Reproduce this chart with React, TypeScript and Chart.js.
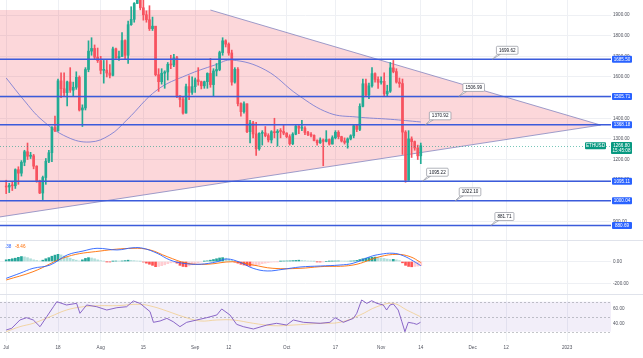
import React, { useEffect, useRef } from 'react';
import { Chart, registerables } from 'chart.js';

Chart.register(...registerables);

const FONT = "'Liberation Sans', Arial, sans-serif";
const AXIS_COLOR = '#50535e';
const GRID_COLOR = '#eef0f4';
const UP = '#22ab94';
const DOWN = '#f7525f';
const LEVEL_COLOR = '#3b5bdb';
const FS = 4.6;

const X_MIN = -2.03;
const X_MAX = 198.4;
const xTickDays = [0, 17, 31, 45, 62, 73, 92, 108, 123, 136, 153, 164, 184];
const xTickLabels = ['Jul', '18', 'Aug', '15', 'Sep', '12', 'Oct', '17', 'Nov', '14', 'Dec', '12', '2023'];

// Daily ETHUSD candles, Jul 1 .. Nov 14
const firstOpen = 1068;
const closes = [
  1067, 1075, 1073, 1151, 1134, 1187, 1238, 1216, 1218, 1168,
  1097, 1038, 1113, 1192, 1233, 1355, 1339, 1581, 1543, 1524,
  1576, 1536, 1550, 1598, 1440, 1450, 1636, 1725, 1738, 1696,
  1679, 1632, 1633, 1619, 1608, 1736, 1693, 1699, 1776, 1705,
  1853, 1879, 1956, 1982, 1935, 1901, 1877, 1834, 1846, 1611,
  1577, 1618, 1624, 1661, 1658, 1693, 1508, 1491, 1425, 1553,
  1525, 1553, 1586, 1577, 1557, 1577, 1617, 1563, 1629, 1636,
  1718, 1775, 1759, 1716, 1575, 1637, 1471, 1432, 1470, 1335,
  1377, 1324, 1252, 1327, 1329, 1316, 1295, 1335, 1330, 1337,
  1336, 1328, 1311, 1277, 1323, 1362, 1352, 1352, 1331, 1322,
  1317, 1292, 1281, 1295, 1288, 1297, 1275, 1306, 1332, 1311,
  1290, 1283, 1300, 1315, 1364, 1346, 1458, 1567, 1513, 1557,
  1616, 1588, 1574, 1579, 1518, 1531, 1644, 1626, 1575, 1568,
  1333, 1100, 1300, 1287, 1256, 1218, 1267,
];
const highs = [
  1100, 1085, 1090, 1155, 1165, 1195, 1245, 1280, 1235, 1225,
  1170, 1100, 1120, 1205, 1245, 1360, 1410, 1590, 1620, 1620,
  1580, 1645, 1575, 1625, 1605, 1465, 1645, 1775, 1790, 1755,
  1740, 1700, 1680, 1680, 1660, 1745, 1740, 1725, 1815, 1780,
  1870, 1940, 1960, 2020, 2030, 2005, 1920, 1945, 1890, 1845,
  1640, 1640, 1630, 1670, 1705, 1710, 1700, 1510, 1505, 1565,
  1605, 1600, 1595, 1645, 1580, 1580, 1620, 1690, 1640, 1665,
  1725, 1790, 1780, 1765, 1730, 1645, 1645, 1475, 1480, 1470,
  1390, 1385, 1380, 1330, 1340, 1360, 1325, 1340, 1400, 1345,
  1350, 1365, 1330, 1320, 1330, 1365, 1365, 1390, 1360, 1337,
  1330, 1320, 1295, 1305, 1300, 1340, 1300, 1315, 1340, 1340,
  1313, 1305, 1305, 1320, 1370, 1370, 1470, 1590, 1590, 1570,
  1645, 1620, 1600, 1600, 1620, 1560, 1670, 1680, 1640, 1595,
  1590, 1340, 1340, 1310, 1290, 1270, 1280,
];
const lows = [
  1035, 1040, 1050, 1060, 1080, 1120, 1170, 1200, 1205, 1155,
  1090, 1035, 1006, 1080, 1185, 1190, 1335, 1338, 1500, 1505,
  1460, 1525, 1505, 1540, 1435, 1360, 1440, 1625, 1705, 1685,
  1670, 1615, 1570, 1600, 1595, 1605, 1690, 1680, 1700, 1685,
  1665, 1850, 1865, 1955, 1925, 1875, 1865, 1825, 1825, 1605,
  1530, 1565, 1545, 1585, 1640, 1650, 1500, 1455, 1420, 1425,
  1490, 1515, 1525, 1560, 1542, 1545, 1545, 1550, 1505, 1605,
  1630, 1705, 1745, 1705, 1560, 1570, 1460, 1410, 1425, 1330,
  1280, 1305, 1220, 1245, 1270, 1310, 1285, 1280, 1305, 1265,
  1305, 1320, 1305, 1270, 1272, 1320, 1325, 1340, 1320, 1316,
  1310, 1290, 1270, 1278, 1170, 1285, 1270, 1275, 1300, 1300,
  1285, 1275, 1255, 1295, 1305, 1335, 1340, 1455, 1505, 1495,
  1550, 1575, 1545, 1565, 1505, 1505, 1525, 1620, 1570, 1550,
  1225, 1090, 1100, 1210, 1245, 1200, 1180,
];

// Moving average (day, price)
const maDays = [0, 5.8, 11.7, 20, 27.5, 34, 39.6, 49.5, 59.3, 68.5, 74, 85, 95.7, 106, 115, 126, 136];
const maValues = [1595, 1488, 1392, 1309, 1285, 1319, 1392, 1537, 1609, 1658, 1682, 1634, 1513, 1425, 1406, 1395, 1382];

const priceTicks = [900, 1000, 1100, 1200, 1300, 1400, 1500, 1600, 1700, 1800, 1900];
const levelPrices = [1685.5, 1505.71, 1368.18, 1095.11, 1000.04, 880.69];
const lastPrice = 1266.8;
const lastTime = '15:45:08';
const symbol = 'ETHUSD';

const calloutTexts = ['1699.62', '1506.99', '1370.92', '1095.22', '1022.10', '881.71'];
const calloutDays = [159.5, 148.5, 137.5, 136.6, 147.3, 159];
const calloutPrices = [1685.5, 1505.71, 1368.18, 1095.11, 1000.04, 880.69];

const triangleDays = [-3, 67, 195, -3];
const trianglePrices = [1924, 1924, 1367, 920];

// MACD pane
const histValues = [
  15, 20, 25,
  30, 38, 45, 42, 35,
  25, 15, 10, 5,
  12, 25, 35, 48, 58, 65, 60,
  50, 40, 30, 20, 12, 5,
  15, 28, 35, 32, 25,
  15, 8, 3, -2, -3, 2, 4, 3, 5,
  8, 12, 10, 8, 5, 2,
  -5, -15, -25, -35,
  -47, -45, -38, -30, -20,
  -12, -8, -15,
  -35, -45, -48, -40,
  -30, -20, -12, -5, 2, 6,
  12, 18, 25, 32, 35, 30, 22,
  10, -5, -15,
  -25, -32, -38, -42, -40, -35, -28,
  -20, -15, -10, -6, -3, -1, 2, 4, 5,
  6, 8, 10, 12, 10, 8, 5,
  3, 1, -2, -3, -2, 0, 2, 3, 4,
  5, 4, 3, 2, 4, 6, 10,
  18, 25, 30, 35, 38, 40, 36, 32, 28,
  22, 18, 20, 15, 8,
  -12, -35, -45, -48, -45, -42, -38,
];
const macdDays = [0, 4.5, 8.8, 14.4, 20, 25.2, 29.8, 36.4, 41.6, 44.9, 49.5, 53.7, 58, 63.6, 69.2, 72.4, 76.7, 81, 85.6, 90.8, 96.4, 103, 109.5, 113.8, 119.4, 122.6, 126.9, 130.2, 133.5, 136];
const macdValues = [-153, -107, -62, -32, 59, 95, 120, 105, 125, 120, 75, 14, -16, -25, -2, 23, -7, -62, -86, -71, -50, -41, -32, -16, 44, 65, 75, 53, 5, -38];
const signalDays = [0, 8.8, 20, 30.8, 41.6, 47.2, 52.8, 59.3, 65.9, 74.4, 81, 87.5, 96.4, 103, 113.8, 122.6, 128.2, 132.5, 136];
const signalValues = [-168, -93, 44, 95, 120, 105, 44, -16, -25, -2, -32, -62, -62, -47, -32, 44, 65, 44, -8.46];
const macdTicks = [0, -200];
const macdLegend = ['.38', '-8.46'];

// RSI pane
const rsiDays = [0, 1.8, 4.5, 6.7, 8.9, 11.1, 13.3, 15.5, 16.6, 19.8, 23.1, 24.2, 26.4, 29.7, 33, 36.3, 39.5, 41.7, 43.9, 47.2, 48.3, 50.5, 52.7, 54.8, 57, 59.2, 62.5, 65.8, 69.1, 70.7, 73.4, 75.6, 77.8, 81.1, 85.5, 88.7, 92, 94.2, 97.5, 103, 106.2, 107.9, 110.6, 113.9, 115, 116.6, 118.3, 119.9, 121.6, 123.7, 124.8, 125.9, 127, 128.6, 129.8, 130.8, 131.9, 133.6, 134.7, 135.9];
const rsiValues = [32.3, 34.5, 45.6, 48.7, 45.6, 36.7, 50, 63.3, 70, 65.6, 67.8, 54.5, 65.6, 63.3, 58.9, 62, 63.3, 71, 67.8, 56.7, 42.5, 44.3, 47.8, 43.3, 36.7, 42.5, 45.6, 48.7, 52.3, 60.3, 52.3, 39.8, 36.7, 33.6, 38.9, 41.2, 38.9, 45.6, 42.5, 41.2, 42.5, 48.7, 42.5, 47.8, 54.5, 72.3, 67.8, 71.3, 67.8, 65.6, 58.9, 65.6, 66.9, 58.9, 43.3, 30, 42.5, 41.2, 39.8, 42.5];
const rsiMaDays = [0, 4.5, 8.9, 14.4, 19.8, 25.3, 30.8, 36.3, 43.9, 48.3, 52.7, 58.1, 63.6, 69.1, 74.5, 81.1, 87.6, 94.2, 103, 109.5, 116.1, 121.6, 127, 131.4, 135.9];
const rsiMaValues = [30, 36.7, 41.2, 50, 58.9, 63.3, 64.7, 64.7, 66.5, 63.3, 57.6, 50, 44.3, 45.6, 45.6, 41.2, 38, 38.9, 41.2, 42.5, 52.3, 63.3, 67.8, 58.9, 50];
const rsiTicks = [40, 60];
const rsiLevels = [70, 50, 30];

const opens = closes.map((c, i) => (i === 0 ? firstOpen : closes[i - 1]));
const candleColors = closes.map((c, i) => (c >= opens[i] ? UP : DOWN));
const histColors = histValues.map((v, i) => {
  const prev = i === 0 ? 0 : histValues[i - 1];
  if (v >= 0) return v >= prev ? '#26a69a' : '#b2dfdb';
  return v <= prev ? '#ff5252' : '#ffcdd2';
});

function xScale(showLabels: boolean): any {
  return {
    type: 'linear',
    min: X_MIN,
    max: X_MAX,
    offset: false,
    grid: { color: GRID_COLOR, drawTicks: false, offset: false },
    border: { display: false },
    ticks: showLabels
      ? {
          autoSkip: false,
          maxRotation: 0,
          padding: 4,
          font: { size: FS, family: FONT },
          color: AXIS_COLOR,
          callback: (_v: any, i: number) => xTickLabels[i],
        }
      : { display: false },
    afterBuildTicks: (s: any) => {
      s.ticks = xTickDays.map((v) => ({ value: v }));
    },
    afterFit: (s: any) => {
      s.height = showLabels ? 17 : 0;
      s.paddingLeft = 0;
      s.paddingRight = 0;
    },
  };
}

function yScale(min: number, max: number, ticks: number[], grid: boolean): any {
  return {
    type: 'linear',
    position: 'right',
    min,
    max,
    grid: { display: grid, color: GRID_COLOR, drawTicks: false },
    border: { display: false },
    ticks: {
      padding: 2,
      font: { size: FS, family: FONT },
      color: AXIS_COLOR,
      callback: (v: any) => Number(v).toFixed(2),
    },
    afterBuildTicks: (s: any) => {
      s.ticks = ticks.filter((v) => v >= min && v <= max).map((v) => ({ value: v }));
    },
    afterFit: (s: any) => {
      s.width = 32;
      s.paddingTop = 0;
      s.paddingBottom = 0;
    },
  };
}

const baseOptions = (scales: any): any => ({
  animation: false,
  responsive: false,
  maintainAspectRatio: false,
  devicePixelRatio: 1,
  layout: { padding: 0, autoPadding: false },
  plugins: { legend: { display: false }, tooltip: { enabled: false } },
  scales,
});

function roundRect(ctx: CanvasRenderingContext2D, x: number, y: number, w: number, h: number, r: number) {
  ctx.beginPath();
  ctx.moveTo(x + r, y);
  ctx.lineTo(x + w - r, y);
  ctx.quadraticCurveTo(x + w, y, x + w, y + r);
  ctx.lineTo(x + w, y + h - r);
  ctx.quadraticCurveTo(x + w, y + h, x + w - r, y + h);
  ctx.lineTo(x + r, y + h);
  ctx.quadraticCurveTo(x, y + h, x, y + h - r);
  ctx.lineTo(x, y + r);
  ctx.quadraticCurveTo(x, y, x + r, y);
  ctx.closePath();
}

const mainOverlay = {
  id: 'mainOverlay',
  beforeDatasetsDraw(chart: any) {
    const { ctx, chartArea: a, scales } = chart;
    const x = scales.x;
    const y = scales.y;
    ctx.save();
    ctx.beginPath();
    ctx.rect(a.left, a.top, a.right - a.left, a.bottom - a.top);
    ctx.clip();
    const pts = triangleDays.map((d, i) => [x.getPixelForValue(d), y.getPixelForValue(trianglePrices[i])]);
    ctx.beginPath();
    pts.forEach((p, i) => (i ? ctx.lineTo(p[0], p[1]) : ctx.moveTo(p[0], p[1])));
    ctx.closePath();
    ctx.fillStyle = 'rgba(242,54,69,0.2)';
    ctx.fill();
    ctx.beginPath();
    ctx.moveTo(pts[1][0], pts[1][1]);
    ctx.lineTo(pts[2][0], pts[2][1]);
    ctx.lineTo(pts[3][0], pts[3][1]);
    ctx.strokeStyle = 'rgba(125,128,190,0.75)';
    ctx.lineWidth = 1;
    ctx.stroke();
    ctx.restore();
  },
  afterDatasetsDraw(chart: any) {
    const { ctx, chartArea: a, scales } = chart;
    const y = scales.y;
    ctx.save();
    // current price dotted line
    const py = Math.round(y.getPixelForValue(lastPrice)) + 0.5;
    ctx.setLineDash([1, 2]);
    ctx.strokeStyle = 'rgba(8,153,129,0.55)';
    ctx.lineWidth = 1;
    ctx.beginPath();
    ctx.moveTo(a.left, py);
    ctx.lineTo(a.right, py);
    ctx.stroke();
    ctx.setLineDash([]);
    // horizontal levels
    ctx.strokeStyle = LEVEL_COLOR;
    ctx.lineWidth = 1.5;
    levelPrices.forEach((p) => {
      const ly = y.getPixelForValue(p);
      ctx.beginPath();
      ctx.moveTo(a.left, ly);
      ctx.lineTo(a.right, ly);
      ctx.stroke();
    });
    ctx.restore();
  },
  afterDraw(chart: any) {
    const { ctx, chartArea: a, scales } = chart;
    const x = scales.x;
    const y = scales.y;
    ctx.save();
    ctx.font = `${FS}px ${FONT}`;
    ctx.textBaseline = 'middle';
    // callouts
    calloutTexts.forEach((t, i) => {
      const ax = x.getPixelForValue(calloutDays[i]);
      const ay = y.getPixelForValue(calloutPrices[i]);
      const w = ctx.measureText(t).width + 5;
      const bx = ax + 4;
      const by = ay - 13;
      ctx.fillStyle = '#ffffff';
      ctx.strokeStyle = '#8f929c';
      ctx.lineWidth = 0.7;
      ctx.beginPath();
      ctx.moveTo(ax, ay);
      ctx.lineTo(bx + 1, by + 8);
      ctx.lineTo(bx + 4, by + 8);
      ctx.closePath();
      ctx.fill();
      ctx.stroke();
      roundRect(ctx, bx, by, w, 8, 1);
      ctx.fill();
      ctx.stroke();
      ctx.fillStyle = '#131722';
      ctx.textAlign = 'center';
      ctx.fillText(t, bx + w / 2, by + 4.3);
    });
    // axis level labels
    levelPrices.forEach((p) => {
      const ly = y.getPixelForValue(p);
      ctx.fillStyle = '#2962ff';
      roundRect(ctx, a.right + 1, ly - 3.5, 20, 7, 1);
      ctx.fill();
      ctx.fillStyle = '#ffffff';
      ctx.textAlign = 'center';
      ctx.fillText(p.toFixed(2), a.right + 11, ly + 0.3);
    });
    // last price label
    const py = y.getPixelForValue(lastPrice);
    ctx.fillStyle = '#089981';
    roundRect(ctx, a.right, py - 3.8, 21, 12, 1);
    ctx.fill();
    roundRect(ctx, a.right - 26, py - 3.5, 21, 7, 1);
    ctx.fill();
    ctx.fillStyle = '#ffffff';
    ctx.textAlign = 'center';
    ctx.fillText(lastPrice.toFixed(2), a.right + 10.5, py + 0.2);
    ctx.fillText(lastTime, a.right + 10.5, py + 5.2);
    ctx.fillText(symbol, a.right - 15.5, py + 0.2);
    ctx.restore();
  },
};

const macdOverlay = {
  id: 'macdOverlay',
  afterDraw(chart: any) {
    const { ctx } = chart;
    ctx.save();
    ctx.font = `${FS}px ${FONT}`;
    ctx.textBaseline = 'middle';
    ctx.textAlign = 'left';
    ctx.fillStyle = '#2962ff';
    ctx.fillText(macdLegend[0], 5, 6);
    ctx.fillStyle = '#ff6d00';
    ctx.fillText(macdLegend[1], 15, 6);
    ctx.restore();
  },
};

const rsiOverlay = {
  id: 'rsiOverlay',
  beforeDatasetsDraw(chart: any) {
    const { ctx, chartArea: a, scales } = chart;
    const y = scales.y;
    const top = y.getPixelForValue(rsiLevels[0]);
    const bot = y.getPixelForValue(rsiLevels[2]);
    ctx.save();
    ctx.fillStyle = 'rgba(126,87,194,0.1)';
    ctx.fillRect(a.left, top, a.right - a.left, bot - top);
    ctx.setLineDash([2, 2]);
    ctx.strokeStyle = 'rgba(120,123,134,0.55)';
    ctx.lineWidth = 0.8;
    rsiLevels.forEach((v) => {
      const ly = Math.round(y.getPixelForValue(v)) + 0.5;
      ctx.beginPath();
      ctx.moveTo(a.left, ly);
      ctx.lineTo(a.right, ly);
      ctx.stroke();
    });
    ctx.restore();
  },
};

export default function App() {
  const mainRef = useRef<HTMLCanvasElement>(null);
  const macdRef = useRef<HTMLCanvasElement>(null);
  const rsiRef = useRef<HTMLCanvasElement>(null);

  useEffect(() => {
    const days = closes.map((_, i) => i);
    const main = new Chart(mainRef.current as HTMLCanvasElement, {
      type: 'bar',
      data: {
        datasets: [
          {
            type: 'bar',
            label: 'body',
            data: days.map((i) => ({ x: i, y: [opens[i], closes[i]] })) as any,
            backgroundColor: candleColors,
            barThickness: 2,
            maxBarThickness: 2,
            minBarLength: 1,
            grouped: false,
            borderWidth: 0,
          } as any,
          {
            type: 'bar',
            label: 'wick',
            data: days.map((i) => ({ x: i, y: [lows[i], highs[i]] })) as any,
            backgroundColor: candleColors,
            barThickness: 1,
            maxBarThickness: 1,
            grouped: false,
            borderWidth: 0,
          } as any,
          {
            type: 'line',
            label: 'MA',
            data: maDays.map((d, i) => ({ x: d, y: maValues[i] })) as any,
            borderColor: 'rgba(110,118,210,0.8)',
            borderWidth: 1,
            pointRadius: 0,
            tension: 0.4,
          } as any,
        ],
      },
      options: baseOptions({ x: xScale(false), y: yScale(810.41, 1972.64, priceTicks, true) }),
      plugins: [mainOverlay],
    });

    const macd = new Chart(macdRef.current as HTMLCanvasElement, {
      type: 'bar',
      data: {
        datasets: [
          {
            type: 'line',
            label: 'MACD',
            data: macdDays.map((d, i) => ({ x: d, y: macdValues[i] })) as any,
            borderColor: '#2962ff',
            borderWidth: 0.9,
            pointRadius: 0,
            tension: 0.4,
          } as any,
          {
            type: 'line',
            label: 'Signal',
            data: signalDays.map((d, i) => ({ x: d, y: signalValues[i] })) as any,
            borderColor: '#ff6d00',
            borderWidth: 0.9,
            pointRadius: 0,
            tension: 0.4,
          } as any,
          {
            type: 'bar',
            label: 'Histogram',
            data: histValues.map((v, i) => ({ x: i, y: v })) as any,
            backgroundColor: histColors,
            barThickness: 2,
            maxBarThickness: 2,
            grouped: false,
            borderWidth: 0,
          } as any,
        ],
      },
      options: baseOptions({ x: xScale(false), y: yScale(-295.5, 186.4, macdTicks, true) }),
      plugins: [macdOverlay],
    });

    const rsi = new Chart(rsiRef.current as HTMLCanvasElement, {
      type: 'line',
      data: {
        datasets: [
          {
            label: 'RSI',
            data: rsiDays.map((d, i) => ({ x: d, y: rsiValues[i] })),
            borderColor: '#7e57c2',
            borderWidth: 0.9,
            pointRadius: 0,
            tension: 0,
          },
          {
            label: 'RSI MA',
            data: rsiMaDays.map((d, i) => ({ x: d, y: rsiMaValues[i] })),
            borderColor: 'rgba(240,190,90,0.6)',
            borderWidth: 0.9,
            pointRadius: 0,
            tension: 0.4,
          },
        ] as any,
      },
      options: baseOptions({ x: xScale(true), y: yScale(17.6, 78.93, rsiTicks, false) }),
      plugins: [rsiOverlay],
    });

    return () => {
      main.destroy();
      macd.destroy();
      rsi.destroy();
    };
  }, []);

  const canvasStyle = (top: number): React.CSSProperties => ({ position: 'absolute', left: 0, top, display: 'block' });

  return (
    <div style={{ position: 'fixed', left: 0, top: 0, width: 643, height: 358, background: '#ffffff', overflow: 'hidden' }}>
      <canvas ref={mainRef} width={643} height={240} style={canvasStyle(0)} />
      <div style={{ position: 'absolute', left: 0, top: 240, width: 643, height: 1, background: '#e0e3eb' }} />
      <canvas ref={macdRef} width={643} height={53} style={canvasStyle(241)} />
      <div style={{ position: 'absolute', left: 0, top: 294, width: 643, height: 1, background: '#e0e3eb' }} />
      <canvas ref={rsiRef} width={643} height={63} style={canvasStyle(295)} />
    </div>
  );
}
